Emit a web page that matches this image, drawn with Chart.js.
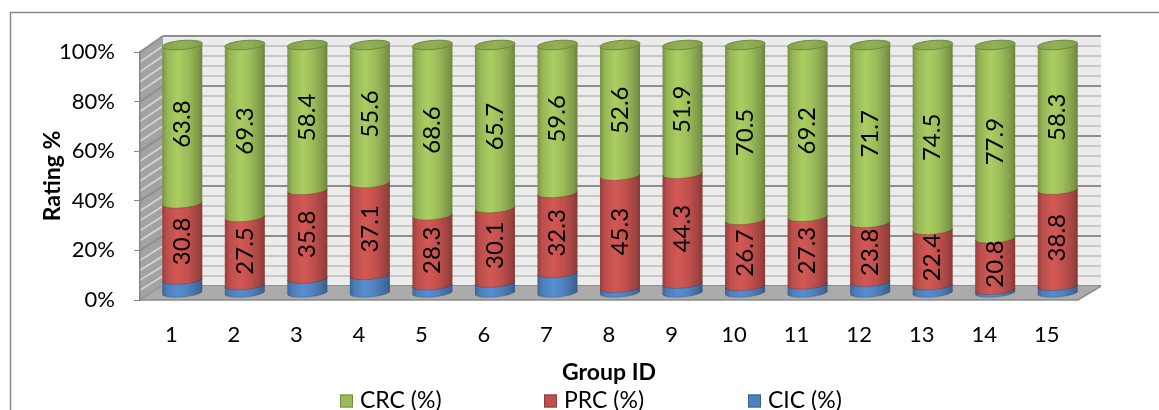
<!DOCTYPE html>
<html>
<head>
<meta charset="utf-8">
<style>
  html, body { margin: 0; padding: 0; background: #ffffff; }
  #wrap { width: 1159px; height: 410px; }
</style>
<script src="https://cdn.jsdelivr.net/npm/chart.js@4.4.1/dist/chart.umd.min.js"></script>
</head>
<body>
<div id="wrap"><canvas id="chart" width="1159" height="410"></canvas></div>
<script>
// Group IDs along the x axis
const groupIds = ['1', '2', '3', '4', '5', '6', '7', '8', '9', '10', '11', '12', '13', '14', '15'];

// Share of ratings per group, in percent
const crcPct = [63.8, 69.3, 58.4, 55.6, 68.6, 65.7, 59.6, 52.6, 51.9, 70.5, 69.2, 71.7, 74.5, 77.9, 58.3];
const prcPct = [30.8, 27.5, 35.8, 37.1, 28.3, 30.1, 32.3, 45.3, 44.3, 26.7, 27.3, 23.8, 22.4, 20.8, 38.8];
const cicPct = [5.4, 3.2, 5.8, 7.3, 3.1, 4.2, 8.1, 2.1, 3.8, 2.8, 3.5, 4.5, 3.1, 1.3, 2.9];

// Value axis
const yMin = 0;
const yMax = 100;
const yStep = 20;
const gridStep = 4;

const FONT = 'Lato, "Open Sans", "Noto Sans", sans-serif';

// depth of the 3-D box and position of the cylinders inside it
const BACK_DX = 23;
const BAR_DX = 11;
const BAR_DY = -7;
const CAP_RY = 4.5;
const TILT = 0.08;

function shade(hex, f) {
  const n = parseInt(hex.slice(1), 16);
  const c = [(n >> 16) & 255, (n >> 8) & 255, n & 255].map(v => Math.max(0, Math.min(255, Math.round(v * f))));
  return 'rgb(' + c.join(',') + ')';
}

// back-wall offset grows slightly with height (perspective)
function backDy(v) { return -14 - 2 * (v - yMin) / (yMax - yMin); }

const boxPlugin = {
  id: 'box3d',
  beforeDraw(chart) {
    const { ctx, chartArea: a } = chart;
    const y = chart.scales.y;
    ctx.save();

    // outer chart frame
    ctx.strokeStyle = '#8a8a8a';
    ctx.lineWidth = 1.5;
    ctx.beginPath();
    ctx.moveTo(10.5, 410);
    ctx.lineTo(10.5, 12.5);
    ctx.lineTo(1159, 12.5);
    ctx.stroke();

    const bL = a.left + BACK_DX, bR = a.right + BACK_DX;
    const yb = v => y.getPixelForValue(v) + backDy(v);
    const yf = v => y.getPixelForValue(v);

    // back wall
    ctx.fillStyle = '#ececec';
    ctx.fillRect(bL, yb(yMax), bR - bL, yb(yMin) - yb(yMax));

    // side wall
    ctx.fillStyle = '#a3a3a3';
    ctx.beginPath();
    ctx.moveTo(a.left, yf(yMax));
    ctx.lineTo(bL, yb(yMax));
    ctx.lineTo(bL, yb(yMin));
    ctx.lineTo(a.left, yf(yMin));
    ctx.closePath();
    ctx.fill();

    // gridlines on back and side walls
    for (let v = yMin; v <= yMax; v += gridStep) {
      const major = v % yStep === 0;
      ctx.lineWidth = major ? 2 : 1.6;
      ctx.strokeStyle = major ? '#8e8e8e' : '#bdbdbd';
      ctx.beginPath();
      ctx.moveTo(bL, yb(v));
      ctx.lineTo(bR, yb(v));
      ctx.stroke();
      ctx.strokeStyle = major ? '#8e8e8e' : '#d6d6d6';
      ctx.beginPath();
      ctx.moveTo(a.left, yf(v));
      ctx.lineTo(bL, yb(v));
      ctx.stroke();
    }

    // floor
    ctx.fillStyle = '#ababab';
    ctx.beginPath();
    ctx.moveTo(a.left, yf(yMin));
    ctx.lineTo(bL, yb(yMin));
    ctx.lineTo(bR, yb(yMin));
    ctx.lineTo(a.right, yf(yMin));
    ctx.closePath();
    ctx.fill();
    ctx.strokeStyle = '#8c8c8c';
    ctx.lineWidth = 1.5;
    ctx.beginPath();
    ctx.moveTo(a.left, yf(yMin));
    ctx.lineTo(a.right, yf(yMin));
    ctx.lineTo(bR, yb(yMin));
    ctx.stroke();
    ctx.restore();
  },
  beforeDatasetDraw() {
    // cylinders are painted in afterDatasetsDraw
    return false;
  },
  afterDatasetsDraw(chart) {
    const { ctx } = chart;
    const metas = chart.data.datasets.map((d, i) => chart.getDatasetMeta(i));
    const n = chart.data.labels.length;

    const arc = (cx, cy, rx, ry) => {
      const steps = 28;
      for (let j = 0; j <= steps; j++) {
        const t = Math.PI - Math.PI * j / steps;
        const x = cx + rx * Math.cos(t);
        ctx.lineTo(x, cy + ry * Math.sin(t) - TILT * (x - cx));
      }
    };

    ctx.save();
    for (let i = 0; i < n; i++) {
      metas.forEach((meta, di) => {
        const el = meta.data[i];
        const color = chart.data.datasets[di].backgroundColor;
        const cx = el.x + BAR_DX;
        const rx = el.width / 2;
        const top = el.y + BAR_DY;
        const bot = el.base + BAR_DY;

        const g = ctx.createLinearGradient(cx - rx, 0, cx + rx, 0);
        g.addColorStop(0, shade(color, 0.78));
        g.addColorStop(0.12, shade(color, 0.97));
        g.addColorStop(0.38, shade(color, 1.1));
        g.addColorStop(0.65, shade(color, 1.0));
        g.addColorStop(0.9, shade(color, 0.82));
        g.addColorStop(1, shade(color, 0.7));

        ctx.beginPath();
        ctx.moveTo(cx - rx, top + TILT * rx);
        ctx.lineTo(cx - rx, bot + TILT * rx);
        arc(cx, bot, rx, CAP_RY);
        ctx.lineTo(cx + rx, top - TILT * rx);
        ctx.closePath();
        ctx.fillStyle = g;
        ctx.fill();

        // soft seam along the lower rim
        ctx.beginPath();
        ctx.moveTo(cx - rx, bot + TILT * rx);
        arc(cx, bot, rx, CAP_RY);
        ctx.strokeStyle = 'rgba(0,0,0,0.18)';
        ctx.lineWidth = 1;
        ctx.stroke();

        if (di === metas.length - 1) {
          // top cap
          ctx.beginPath();
          const steps = 48;
          for (let j = 0; j <= steps; j++) {
            const t = 2 * Math.PI * j / steps;
            const x = cx + rx * Math.cos(t);
            const yy = top + CAP_RY * Math.sin(t) - TILT * (x - cx);
            if (j === 0) ctx.moveTo(x, yy); else ctx.lineTo(x, yy);
          }
          ctx.closePath();
          const cg = ctx.createLinearGradient(cx - rx, 0, cx + rx, 0);
          cg.addColorStop(0, shade(color, 0.86));
          cg.addColorStop(0.5, shade(color, 0.95));
          cg.addColorStop(1, shade(color, 0.84));
          ctx.fillStyle = cg;
          ctx.fill();
          ctx.strokeStyle = shade(color, 0.72);
          ctx.lineWidth = 1;
          ctx.stroke();
        }
      });
    }

    // value labels written up the cylinders
    ctx.fillStyle = '#000000';
    ctx.font = '24px ' + FONT;
    ctx.textAlign = 'center';
    ctx.textBaseline = 'middle';
    metas.forEach((meta, di) => {
      const ds = chart.data.datasets[di];
      if (!ds.showValues) return;
      meta.data.forEach((el, i) => {
        const cx = el.x + BAR_DX - 1;
        const cy = (el.y + el.base) / 2 + BAR_DY;
        ctx.save();
        ctx.translate(cx, cy);
        ctx.rotate(-Math.PI / 2);
        ctx.fillText(ds.data[i].toFixed(1), 0, 1);
        ctx.restore();
      });
    });
    ctx.restore();
  },
  afterDraw(chart) {
    // legend row along the bottom
    const { ctx } = chart;
    const order = chart.data.datasets.slice().reverse();
    const startX = 340, stepX = 204, rowY = 401, box = 13;
    ctx.save();
    ctx.font = '23px ' + FONT;
    ctx.textAlign = 'left';
    ctx.textBaseline = 'middle';
    order.forEach((ds, k) => {
      const x = startX + k * stepX;
      ctx.fillStyle = ds.backgroundColor;
      ctx.fillRect(x, rowY - box / 2, box, box);
      ctx.strokeStyle = shade(ds.backgroundColor, 0.75);
      ctx.lineWidth = 1;
      ctx.strokeRect(x + 0.5, rowY - box / 2 + 0.5, box - 1, box - 1);
      ctx.fillStyle = '#000000';
      ctx.fillText(ds.label, x + box + 7, rowY);
    });
    ctx.restore();
  }
};

new Chart(document.getElementById('chart'), {
  type: 'bar',
  data: {
    labels: groupIds,
    datasets: [
      { label: 'CIC (%)', data: cicPct, backgroundColor: '#4F81BD', showValues: false },
      { label: 'PRC (%)', data: prcPct, backgroundColor: '#C0504D', showValues: true },
      { label: 'CRC (%)', data: crcPct, backgroundColor: '#9BBB59', showValues: true }
    ]
  },
  options: {
    responsive: false,
    animation: false,
    events: [],
    layout: { padding: { top: 52, right: 81, left: 0, bottom: 0 } },
    datasets: { bar: { categoryPercentage: 1, barPercentage: 0.64 } },
    plugins: {
      legend: { display: false },
      tooltip: { enabled: false }
    },
    scales: {
      x: {
        stacked: true,
        afterFit(s) { s.height = 110; },
        grid: { display: false, drawTicks: false },
        border: { display: false },
        ticks: { color: '#000000', padding: 22, font: { family: FONT, size: 22 } },
        title: {
          display: true, text: 'Group ID', color: '#000000',
          padding: { top: 0, bottom: 24 },
          font: { family: FONT, size: 23, weight: 'bold' }
        }
      },
      y: {
        stacked: true,
        min: yMin,
        max: yMax,
        afterFit(s) { s.width = 140; },
        grid: { drawOnChartArea: false, drawTicks: true, tickLength: 6, color: '#868686' },
        border: { display: true, color: '#868686', width: 1.5 },
        ticks: {
          stepSize: yStep, color: '#000000', padding: 19,
          font: { family: FONT, size: 22 },
          callback: v => v + '%'
        },
        title: {
          display: true, text: 'Rating %', color: '#000000',
          padding: { top: 39, bottom: 0 },
          font: { family: FONT, size: 23, weight: 'bold' }
        }
      }
    }
  },
  plugins: [boxPlugin]
});
</script>
</body>
</html>
